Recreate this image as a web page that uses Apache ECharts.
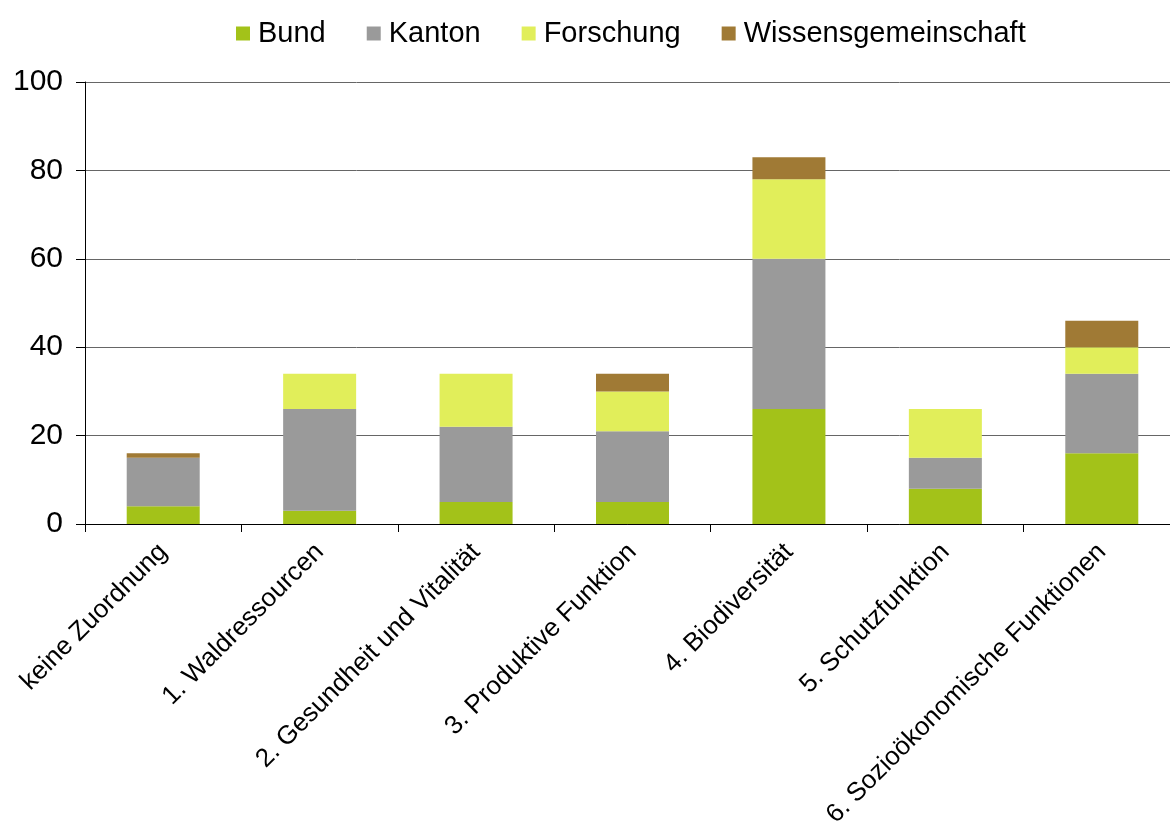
<!DOCTYPE html>
<html><head><meta charset="utf-8">
<script src="https://cdn.jsdelivr.net/npm/echarts@6/dist/echarts.min.js"></script>
<style>html,body{margin:0;padding:0;background:#fff;}#c{width:1170px;height:823px;}</style>
</head><body><div id="c"></div>
<script>
const categories = ['keine Zuordnung','1. Waldressourcen','2. Gesundheit und Vitalität','3. Produktive Funktion','4. Biodiversität','5. Schutzfunktion','6. Sozioökonomische Funktionen'];
const bund = [4, 3, 5, 5, 26, 8, 16];
const kanton = [11, 23, 17, 16, 34, 7, 18];
const forschung = [0, 8, 12, 9, 18, 11, 6];
const wissen = [1, 0, 0, 4, 5, 0, 6];
const yTicks = [0, 20, 40, 60, 80, 100];

const font = '"Liberation Sans", Arial, sans-serif';
const chart = echarts.init(document.getElementById('c'));
function s(name, data, color) {
  return { name, type: 'bar', stack: 'a', data, barWidth: 73, itemStyle: { color }, emphasis: { disabled: true } };
}
chart.setOption({
  animation: false,
  textStyle: { fontFamily: font },
  legend: {
    top: 14, left: 231, itemWidth: 14, itemHeight: 14, itemGap: 41,
    icon: 'rect',
    textStyle: { fontFamily: font, fontSize: 29, color: '#000', padding: [0, 0, 0, 3] },
    data: ['Bund', 'Kanton', 'Forschung', 'Wissensgemeinschaft']
  },
  grid: { left: 85, top: 82, height: 442, width: 1095, containLabel: false, outerBoundsMode: 'none' },
  xAxis: {
    type: 'category', data: categories,
    axisLine: { lineStyle: { color: '#000', width: 1 } },
    axisTick: { show: true, alignWithLabel: false, length: 8, lineStyle: { color: '#000' } },
    axisLabel: { rotate: 45, interval: 0, fontSize: 26, color: '#000', fontFamily: font, margin: 24 }
  },
  yAxis: {
    type: 'value', min: yTicks[0], max: yTicks[yTicks.length - 1], interval: 20,
    axisLine: { show: true, lineStyle: { color: '#000' } },
    axisTick: { show: true, length: 9, lineStyle: { color: '#000' } },
    axisLabel: { fontSize: 30, color: '#000', fontFamily: font, margin: 22 },
    splitLine: { lineStyle: { color: '#666666', width: 1 } }
  },
  series: [
    s('Bund', bund, '#a3c219'),
    s('Kanton', kanton, '#9a9a9a'),
    s('Forschung', forschung, '#e1ee5a'),
    s('Wissensgemeinschaft', wissen, '#a07a35')
  ]
});
</script></body></html>
